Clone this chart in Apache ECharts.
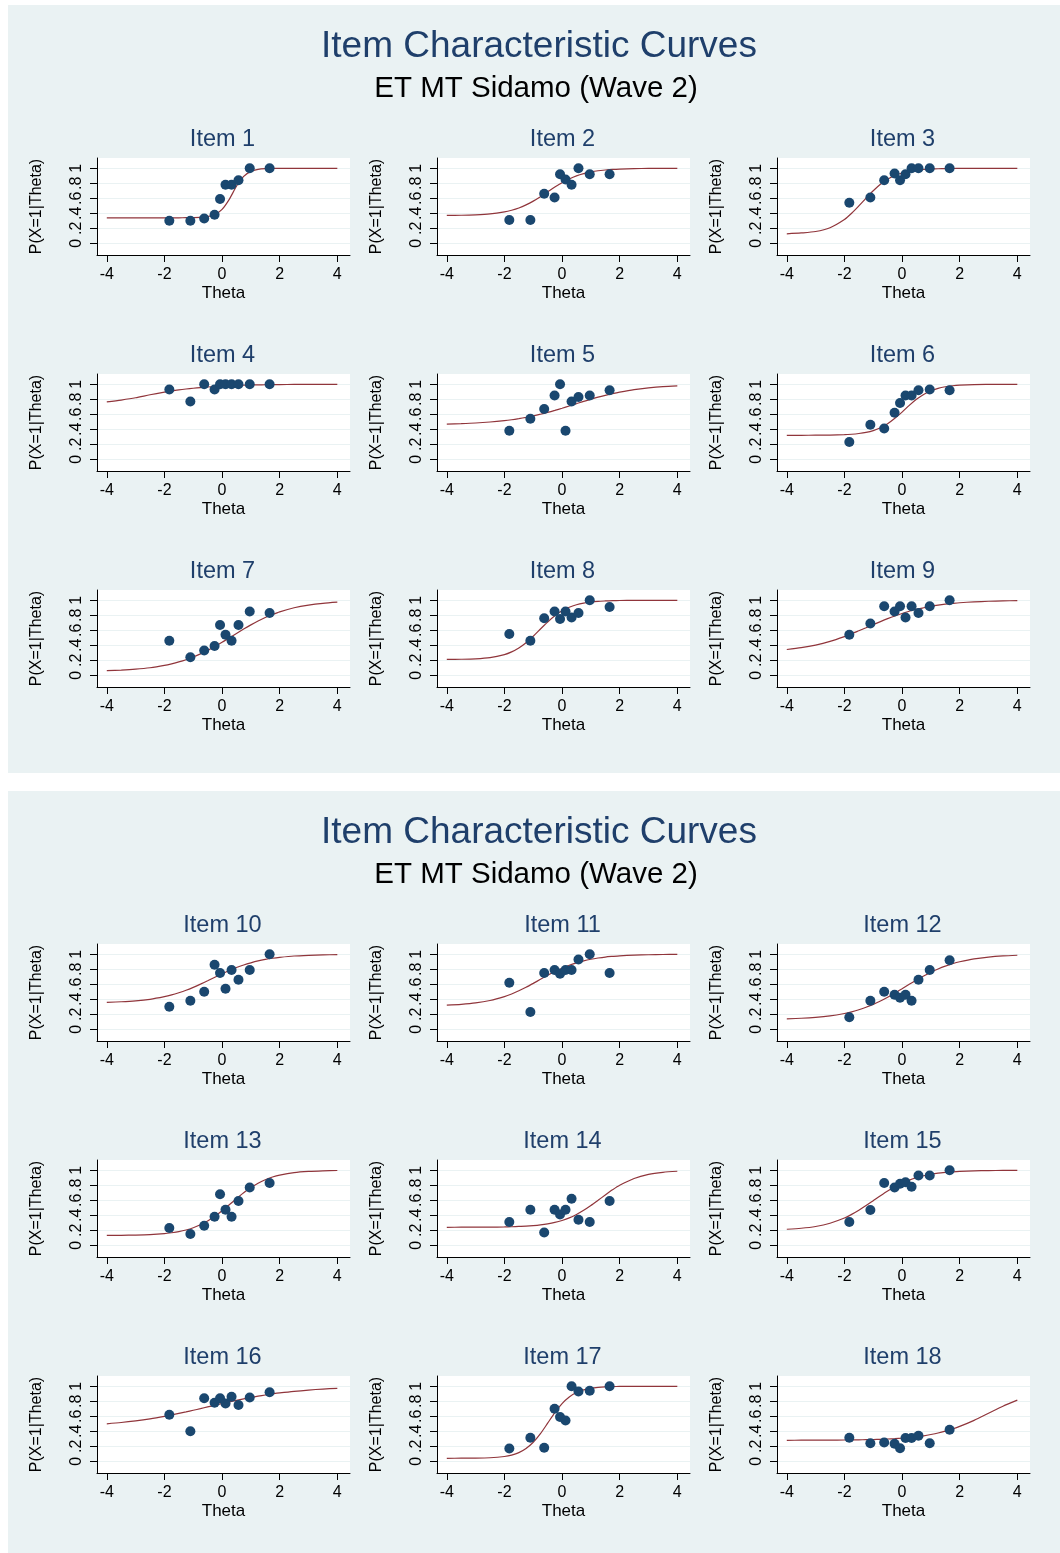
<!DOCTYPE html>
<html>
<head>
<meta charset="utf-8">
<script src="https://cdn.jsdelivr.net/npm/echarts@6/dist/echarts.min.js"></script>
<style>
html,body{margin:0;padding:0;background:#ffffff;}
#chart{width:1060px;height:1553px;}
</style>
</head>
<body>
<div id="chart"></div>
<script>
// ---------------- DATA ----------------
const mainTitle = 'Item Characteristic Curves';
const subTitle = 'ET MT Sidamo (Wave 2)';
const itemNames = ['Item 1','Item 2','Item 3','Item 4','Item 5','Item 6','Item 7','Item 8','Item 9',
                   'Item 10','Item 11','Item 12','Item 13','Item 14','Item 15','Item 16','Item 17','Item 18'];
const xAxisTitle = 'Theta';
const yAxisTitle = 'P(X=1|Theta)';
const xTicks = [-4, -2, 0, 2, 4];
const yTicks = [0, 0.2, 0.4, 0.6, 0.8, 1];
const yTickLabels = ['0', '.2', '.4', '.6', '.8', '1'];

// theta of the observed (group) points
const thetaObs = [-1.83, -1.10, -0.62, -0.26, -0.07, 0.12, 0.33, 0.57, 0.96, 1.65];
// theta at which the fitted curves were read
const thetaCurve = [-4, -3.5, -3, -2.5, -2, -1.75, -1.5, -1.25, -1, -0.75, -0.5, -0.25, 0,
                    0.25, 0.5, 0.75, 1, 1.25, 1.5, 1.75, 2, 2.5, 3, 3.5, 4];

// observed proportions
const obsItem1  = [0.30, 0.30, 0.33, 0.38, 0.59, 0.78, 0.78, 0.84, 1.00, 1.00];
const obsItem2  = [0.31, 0.31, 0.66, 0.61, 0.92, 0.85, 0.78, 1.00, 0.92, 0.92];
const obsItem3  = [0.54, 0.61, 0.84, 0.93, 0.84, 0.92, 1.00, 1.00, 1.00, 1.00];
const obsItem4  = [0.93, 0.77, 1.00, 0.93, 1.00, 1.00, 1.00, 1.00, 1.00, 1.00];
const obsItem5  = [0.38, 0.54, 0.67, 0.85, 1.00, 0.38, 0.77, 0.83, 0.85, 0.92];
const obsItem6  = [0.23, 0.46, 0.41, 0.62, 0.75, 0.85, 0.85, 0.92, 0.93, 0.92];
const obsItem7  = [0.46, 0.24, 0.33, 0.39, 0.67, 0.54, 0.46, 0.67, 0.85, 0.83];
const obsItem8  = [0.55, 0.46, 0.76, 0.85, 0.75, 0.85, 0.77, 0.83, 1.00, 0.91];
const obsItem9  = [0.54, 0.69, 0.92, 0.85, 0.92, 0.77, 0.92, 0.83, 0.92, 1.00];
const obsItem10 = [0.30, 0.38, 0.50, 0.86, 0.75, 0.54, 0.79, 0.66, 0.79, 1.00];
const obsItem11 = [0.62, 0.23, 0.75, 0.79, 0.74, 0.79, 0.79, 0.93, 1.00, 0.75];
const obsItem12 = [0.16, 0.38, 0.50, 0.46, 0.42, 0.46, 0.38, 0.66, 0.79, 0.92];
const obsItem13 = [0.23, 0.15, 0.26, 0.38, 0.68, 0.475, 0.38, 0.59, 0.77, 0.83];
const obsItem14 = [0.31, 0.475, 0.17, 0.475, 0.41, 0.475, 0.62, 0.34, 0.31, 0.59];
const obsItem15 = [0.31, 0.47, 0.83, 0.77, 0.82, 0.84, 0.78, 0.93, 0.93, 1.00];
const obsItem16 = [0.62, 0.40, 0.84, 0.78, 0.84, 0.77, 0.86, 0.75, 0.85, 0.92];
const obsItem17 = [0.17, 0.315, 0.18, 0.70, 0.59, 0.545, 1.00, 0.93, 0.94, 1.00];
const obsItem18 = [0.315, 0.24, 0.25, 0.235, 0.175, 0.31, 0.31, 0.34, 0.24, 0.42];

// fitted curves, read at thetaCurve
const curveItem1  = [0.34,0.34,0.34,0.34,0.34,0.34,0.34,0.341,0.342,0.345,0.355,0.383,0.452,0.586,0.76,0.892,0.959,0.985,0.995,0.998,0.999,1,1,1,1];
const curveItem2  = [0.372,0.374,0.38,0.392,0.419,0.441,0.471,0.512,0.562,0.621,0.685,0.749,0.808,0.858,0.899,0.929,0.951,0.967,0.977,0.985,0.99,0.996,0.998,0.999,1];
const curveItem3  = [0.126,0.138,0.157,0.208,0.317,0.40,0.498,0.601,0.70,0.787,0.854,0.903,0.937,0.96,0.975,0.984,0.99,0.994,0.996,0.997,0.998,0.999,1,1,1];
const curveItem4  = [0.765,0.79,0.82,0.86,0.895,0.91,0.925,0.937,0.947,0.956,0.964,0.97,0.976,0.98,0.984,0.987,0.99,0.992,0.994,0.995,0.996,0.998,0.999,1,1];
const curveItem5  = [0.47,0.476,0.484,0.497,0.515,0.527,0.542,0.559,0.578,0.601,0.625,0.652,0.681,0.711,0.741,0.772,0.80,0.828,0.853,0.876,0.896,0.929,0.952,0.969,0.979];
const curveItem6  = [0.32,0.32,0.321,0.323,0.328,0.334,0.344,0.359,0.383,0.421,0.474,0.546,0.629,0.719,0.80,0.865,0.913,0.946,0.967,0.98,0.988,0.996,0.998,0.999,1];
const curveItem7  = [0.062,0.070,0.082,0.101,0.132,0.153,0.178,0.208,0.244,0.286,0.332,0.384,0.44,0.499,0.558,0.616,0.672,0.724,0.77,0.81,0.846,0.90,0.936,0.96,0.975];
const curveItem8  = [0.211,0.214,0.22,0.236,0.276,0.312,0.364,0.434,0.521,0.617,0.711,0.794,0.86,0.908,0.941,0.963,0.977,0.986,0.991,0.995,0.997,0.999,1,1,1];
const curveItem9  = [0.344,0.368,0.403,0.452,0.516,0.553,0.593,0.633,0.675,0.716,0.755,0.791,0.824,0.854,0.88,0.90,0.919,0.935,0.948,0.958,0.967,0.979,0.987,0.992,0.995];
const curveItem10 = [0.36,0.367,0.379,0.40,0.435,0.458,0.487,0.52,0.559,0.602,0.647,0.694,0.739,0.783,0.823,0.857,0.886,0.911,0.931,0.947,0.959,0.977,0.986,0.992,0.995];
const curveItem11 = [0.322,0.333,0.351,0.384,0.436,0.471,0.513,0.56,0.612,0.666,0.719,0.77,0.814,0.854,0.886,0.913,0.934,0.95,0.963,0.972,0.98,0.989,0.994,0.997,0.998];
const curveItem12 = [0.14,0.147,0.159,0.179,0.211,0.233,0.26,0.294,0.332,0.377,0.428,0.482,0.54,0.599,0.656,0.71,0.76,0.804,0.842,0.874,0.90,0.939,0.963,0.978,0.987];
const curveItem13 = [0.131,0.133,0.136,0.142,0.155,0.167,0.182,0.204,0.234,0.274,0.324,0.387,0.461,0.541,0.622,0.70,0.769,0.828,0.874,0.91,0.936,0.969,0.985,0.993,0.997];
const curveItem14 = [0.24,0.241,0.241,0.242,0.245,0.247,0.251,0.255,0.262,0.272,0.286,0.305,0.331,0.365,0.411,0.466,0.53,0.60,0.671,0.739,0.80,0.891,0.945,0.973,0.987];
const curveItem15 = [0.214,0.227,0.251,0.294,0.363,0.412,0.467,0.529,0.595,0.661,0.724,0.78,0.829,0.869,0.902,0.927,0.946,0.961,0.971,0.979,0.985,0.992,0.996,0.998,0.999];
const curveItem16 = [0.50,0.517,0.539,0.566,0.599,0.618,0.638,0.658,0.68,0.702,0.725,0.748,0.77,0.792,0.812,0.832,0.851,0.868,0.884,0.898,0.911,0.933,0.95,0.963,0.973];
const curveItem17 = [0.04,0.041,0.042,0.047,0.064,0.083,0.116,0.171,0.254,0.369,0.508,0.649,0.77,0.858,0.916,0.952,0.973,0.985,0.992,0.996,0.998,0.999,1,1,1];
const curveItem18 = [0.28,0.281,0.281,0.282,0.284,0.285,0.286,0.288,0.29,0.293,0.297,0.302,0.309,0.317,0.327,0.34,0.357,0.377,0.402,0.431,0.465,0.546,0.64,0.734,0.815];

// ---------------- BUILD ----------------
const observedByItem = [obsItem1,obsItem2,obsItem3,obsItem4,obsItem5,obsItem6,obsItem7,obsItem8,obsItem9,
  obsItem10,obsItem11,obsItem12,obsItem13,obsItem14,obsItem15,obsItem16,obsItem17,obsItem18];
const curveByItem = [curveItem1,curveItem2,curveItem3,curveItem4,curveItem5,curveItem6,curveItem7,curveItem8,curveItem9,
  curveItem10,curveItem11,curveItem12,curveItem13,curveItem14,curveItem15,curveItem16,curveItem17,curveItem18];

const FONT = "'Liberation Sans', Arial, Helvetica, sans-serif";
const NAVY = '#1f3f6b';
const DOT = '#1a476f';
const MAROON = '#90353b';
const BG = '#eaf2f3';

const panelOffset = [0, 786];
const colLeft = [97, 437, 777];
const rowTop = [158, 374, 590];
const gridW = 253, gridH = 97;

const grids = [], xAxes = [], yAxes = [], series = [], titles = [];

for (let p = 0; p < 2; p++) {
  const off = panelOffset[p];
  titles.push({
    text: mainTitle, left: 539, top: 28 + off, textAlign: 'center', padding: 0,
    textStyle: { fontFamily: FONT, fontSize: 37, fontWeight: 'normal', color: NAVY }
  });
  titles.push({
    text: subTitle, left: 536, top: 74 + off, textAlign: 'center', padding: 0,
    textStyle: { fontFamily: FONT, fontSize: 29.5, fontWeight: 'normal', color: '#000' }
  });
}

for (let i = 0; i < 18; i++) {
  const p = Math.floor(i / 9);
  const k = i % 9;
  const r = Math.floor(k / 3), c = k % 3;
  const top = rowTop[r] + panelOffset[p];
  const left = colLeft[c];
  grids.push({
    left: left, top: top, width: gridW, height: gridH,
    show: true, backgroundColor: '#ffffff', borderWidth: 0, containLabel: false
  });
  titles.push({
    text: itemNames[i], left: left + gridW / 2 - 1, top: top - 30, textAlign: 'center', padding: 0,
    textStyle: { fontFamily: FONT, fontSize: 23.5, fontWeight: 'normal', color: NAVY }
  });
  xAxes.push({
    gridIndex: i, type: 'value', min: -4.34, max: 4.44,
    name: xAxisTitle, nameLocation: 'middle', nameGap: 30,
    nameTextStyle: { fontFamily: FONT, fontSize: 17, color: '#000' },
    axisLine: { show: true, onZero: false, lineStyle: { color: '#000', width: 1 } },
    axisTick: { show: true, length: 7, customValues: xTicks, lineStyle: { color: '#000', width: 1 } },
    axisLabel: { customValues: xTicks, fontFamily: FONT, fontSize: 16, color: '#000', margin: 12 },
    splitLine: { show: false }
  });
  yAxes.push({
    gridIndex: i, type: 'value', min: -0.156, max: 1.137,
    name: yAxisTitle, nameLocation: 'middle', nameGap: 52,
    nameTextStyle: { fontFamily: FONT, fontSize: 16, color: '#000' },
    axisLine: { show: true, onZero: false, lineStyle: { color: '#000', width: 1 } },
    axisTick: { show: true, length: 7, customValues: yTicks, lineStyle: { color: '#000', width: 1 } },
    axisLabel: {
      customValues: yTicks, rotate: 90, fontFamily: FONT, fontSize: 16, color: '#000', margin: 12,
      formatter: function (v) {
        const idx = yTicks.findIndex(t => Math.abs(t - v) < 1e-9);
        return idx >= 0 ? yTickLabels[idx] : '';
      }
    },
    splitLine: { show: true, lineStyle: { color: BG, width: 1 } }
  });
  series.push({
    type: 'line', xAxisIndex: i, yAxisIndex: i,
    data: thetaCurve.map((t, j) => [t, curveByItem[i][j]]),
    showSymbol: false, smooth: 0.25,
    lineStyle: { color: MAROON, width: 1.2 }, z: 2, silent: true
  });
  series.push({
    type: 'scatter', xAxisIndex: i, yAxisIndex: i,
    data: thetaObs.map((t, j) => [t, observedByItem[i][j]]),
    symbol: 'circle', symbolSize: 10,
    itemStyle: { color: DOT, opacity: 1 }, z: 3, silent: true
  });
}

const chart = echarts.init(document.getElementById('chart'), null, { renderer: 'canvas' });
chart.setOption({
  backgroundColor: '#ffffff',
  animation: false,
  textStyle: { fontFamily: FONT },
  graphic: [
    { type: 'rect', z: -100, silent: true, shape: { x: 8, y: 5, width: 1052, height: 768 }, style: { fill: BG } },
    { type: 'rect', z: -100, silent: true, shape: { x: 8, y: 791, width: 1052, height: 762 }, style: { fill: BG } }
  ],
  title: titles,
  grid: grids,
  xAxis: xAxes,
  yAxis: yAxes,
  series: series
});
</script>
</body>
</html>
